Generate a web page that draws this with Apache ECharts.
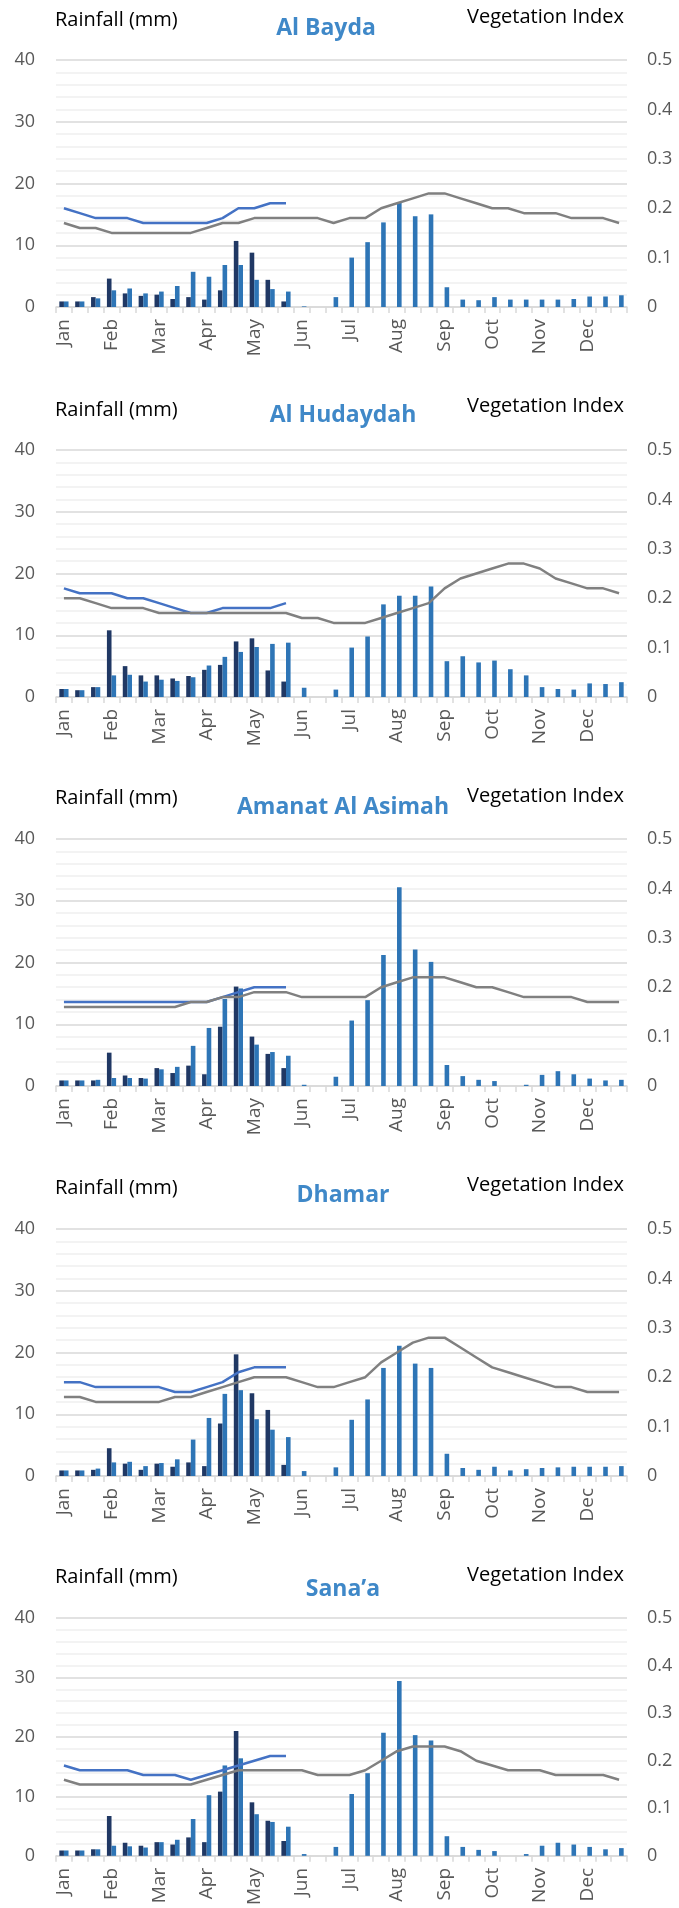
<!DOCTYPE html>
<html>
<head>
<meta charset="utf-8">
<script src="https://cdn.jsdelivr.net/npm/echarts@6/dist/echarts.min.js"></script>
<style>
  html, body { margin: 0; padding: 0; background: #fff; }
  #chart { width: 679px; height: 1908px; }
</style>
</head>
<body>
<div id="chart"></div>
<script>
// x axis: 36 dekads, labelled by month
const months = ['Jan', 'Feb', 'Mar', 'Apr', 'May', 'Jun', 'Jul', 'Aug', 'Sep', 'Oct', 'Nov', 'Dec']
const dekads = months.flatMap(m => [m + ' 1', m + ' 2', m + ' 3'])

const rainTicks = [0, 10, 20, 30, 40]
const viTicks = [0, 0.1, 0.2, 0.3, 0.4, 0.5]

const regions = ['Al Bayda', 'Al Hudaydah', 'Amanat Al Asimah', 'Dhamar', 'Sana\u2019a']

// current season rainfall (mm), Jan 1 .. May 3
const baydaRain = [0.9, 0.9, 1.6, 4.6, 2.2, 1.8, 2.0, 1.3, 1.6, 1.2, 2.7, 10.7, 8.8, 4.4, 0.9]
const hudaydahRain = [1.3, 1.1, 1.6, 10.8, 5.0, 3.5, 3.5, 3.0, 3.4, 4.4, 5.2, 9.0, 9.5, 4.3, 2.5]
const asimahRain = [0.9, 0.9, 0.9, 5.4, 1.7, 1.3, 2.9, 2.1, 3.3, 1.9, 9.6, 16.1, 8.0, 5.2, 2.9]
const dhamarRain = [0.9, 0.9, 1.0, 4.5, 2.0, 1.0, 2.0, 1.5, 2.2, 1.6, 8.5, 19.7, 13.4, 10.7, 1.8]
const sanaaRain = [0.9, 0.9, 1.1, 6.7, 2.2, 1.7, 2.3, 1.9, 3.1, 2.3, 10.8, 21.0, 9.0, 5.9, 2.5]

// long term average rainfall (mm), full year
const baydaRainAvg = [0.9, 0.9, 1.4, 2.7, 3.0, 2.2, 2.5, 3.4, 5.7, 4.9, 6.8, 6.8, 4.4, 2.9, 2.5, 0.1, 0, 1.6, 8.0, 10.5, 13.7, 17.0, 14.7, 15.0, 3.2, 1.2, 1.1, 1.6, 1.2, 1.2, 1.2, 1.2, 1.3, 1.7, 1.7, 1.9]
const hudaydahRainAvg = [1.3, 1.1, 1.6, 3.5, 3.6, 2.5, 2.8, 2.6, 3.2, 5.1, 6.5, 7.3, 8.1, 8.6, 8.8, 1.5, 0, 1.2, 8.0, 9.8, 15.0, 16.4, 16.4, 17.9, 5.8, 6.6, 5.6, 5.9, 4.5, 3.5, 1.6, 1.3, 1.2, 2.2, 2.1, 2.4]
const asimahRainAvg = [0.9, 0.9, 1.0, 1.3, 1.3, 1.2, 2.7, 3.1, 6.5, 9.4, 14.1, 15.8, 6.7, 5.5, 4.9, 0.2, 0, 1.5, 10.6, 13.9, 21.2, 32.2, 22.1, 20.1, 3.4, 1.6, 1.0, 0.8, 0, 0.2, 1.8, 2.4, 1.9, 1.2, 0.9, 1.0]
const dhamarRainAvg = [0.9, 0.9, 1.2, 2.2, 2.3, 1.6, 2.1, 2.7, 5.9, 9.4, 13.3, 13.9, 9.2, 7.5, 6.3, 0.8, 0, 1.4, 9.1, 12.4, 17.5, 21.1, 18.2, 17.5, 3.6, 1.3, 1.0, 1.5, 0.9, 1.1, 1.3, 1.4, 1.5, 1.5, 1.5, 1.6]
const sanaaRainAvg = [0.9, 0.9, 1.1, 1.7, 1.6, 1.4, 2.3, 2.7, 6.2, 10.2, 15.2, 16.4, 7.0, 5.7, 4.9, 0.3, 0, 1.5, 10.4, 13.9, 20.7, 29.4, 20.3, 19.4, 3.3, 1.5, 1.0, 0.8, 0, 0.3, 1.7, 2.2, 1.9, 1.5, 1.1, 1.3]

// current season vegetation index
const baydaVi = [0.20, 0.19, 0.18, 0.18, 0.18, 0.17, 0.17, 0.17, 0.17, 0.17, 0.18, 0.20, 0.20, 0.21, 0.21]
const hudaydahVi = [0.22, 0.21, 0.21, 0.21, 0.20, 0.20, 0.19, 0.18, 0.17, 0.17, 0.18, 0.18, 0.18, 0.18, 0.19]
const asimahVi = [0.17, 0.17, 0.17, 0.17, 0.17, 0.17, 0.17, 0.17, 0.17, 0.17, 0.18, 0.19, 0.20, 0.20, 0.20]
const dhamarVi = [0.19, 0.19, 0.18, 0.18, 0.18, 0.18, 0.18, 0.17, 0.17, 0.18, 0.19, 0.21, 0.22, 0.22, 0.22]
const sanaaVi = [0.19, 0.18, 0.18, 0.18, 0.18, 0.17, 0.17, 0.17, 0.16, 0.17, 0.18, 0.19, 0.20, 0.21, 0.21]

// average vegetation index, full year
const baydaViAvg = [0.17, 0.16, 0.16, 0.15, 0.15, 0.15, 0.15, 0.15, 0.15, 0.16, 0.17, 0.17, 0.18, 0.18, 0.18, 0.18, 0.18, 0.17, 0.18, 0.18, 0.20, 0.21, 0.22, 0.23, 0.23, 0.22, 0.21, 0.20, 0.20, 0.19, 0.19, 0.19, 0.18, 0.18, 0.18, 0.17]
const hudaydahViAvg = [0.20, 0.20, 0.19, 0.18, 0.18, 0.18, 0.17, 0.17, 0.17, 0.17, 0.17, 0.17, 0.17, 0.17, 0.17, 0.16, 0.16, 0.15, 0.15, 0.15, 0.16, 0.17, 0.18, 0.19, 0.22, 0.24, 0.25, 0.26, 0.27, 0.27, 0.26, 0.24, 0.23, 0.22, 0.22, 0.21]
const asimahViAvg = [0.16, 0.16, 0.16, 0.16, 0.16, 0.16, 0.16, 0.16, 0.17, 0.17, 0.18, 0.18, 0.19, 0.19, 0.19, 0.18, 0.18, 0.18, 0.18, 0.18, 0.20, 0.21, 0.22, 0.22, 0.22, 0.21, 0.20, 0.20, 0.19, 0.18, 0.18, 0.18, 0.18, 0.17, 0.17, 0.17]
const dhamarViAvg = [0.16, 0.16, 0.15, 0.15, 0.15, 0.15, 0.15, 0.16, 0.16, 0.17, 0.18, 0.19, 0.20, 0.20, 0.20, 0.19, 0.18, 0.18, 0.19, 0.20, 0.23, 0.25, 0.27, 0.28, 0.28, 0.26, 0.24, 0.22, 0.21, 0.20, 0.19, 0.18, 0.18, 0.17, 0.17, 0.17]
const sanaaViAvg = [0.16, 0.15, 0.15, 0.15, 0.15, 0.15, 0.15, 0.15, 0.15, 0.16, 0.17, 0.18, 0.18, 0.18, 0.18, 0.18, 0.17, 0.17, 0.17, 0.18, 0.20, 0.22, 0.23, 0.23, 0.23, 0.22, 0.20, 0.19, 0.18, 0.18, 0.18, 0.17, 0.17, 0.17, 0.17, 0.16]

const rainSets = [baydaRain, hudaydahRain, asimahRain, dhamarRain, sanaaRain]
const rainAvgSets = [baydaRainAvg, hudaydahRainAvg, asimahRainAvg, dhamarRainAvg, sanaaRainAvg]
const viSets = [baydaVi, hudaydahVi, asimahVi, dhamarVi, sanaaVi]
const viAvgSets = [baydaViAvg, hudaydahViAvg, asimahViAvg, dhamarViAvg, sanaaViAvg]

// layout of each panel (pixels): plot top, title centre and label centres
const panelTop = [60, 450, 839, 1229, 1618]
const titleY = [28, 415, 807, 1195, 1589]
const titleX = [326, 343, 343, 343, 343]
const rainLabelY = [20, 410, 798, 1188, 1577]
const viLabelY = [17, 406, 796, 1185, 1575]

const FONT = '"Open Sans", "Noto Sans", sans-serif'
const PLOT_LEFT = 56
const PLOT_RIGHT = 627
const PLOT_H = 247
const GRID = '#d9d9d9'
const AXIS_TEXT = '#595959'

const chart = echarts.init(document.getElementById('chart'), null, { renderer: 'canvas' })

const grid = []
const xAxis = []
const yAxis = []
const series = []
const graphic = []

regions.forEach((name, i) => {
  grid.push({ left: PLOT_LEFT, width: PLOT_RIGHT - PLOT_LEFT, top: panelTop[i], height: PLOT_H })
  xAxis.push({
    type: 'category',
    gridIndex: i,
    data: dekads,
    boundaryGap: true,
    axisLine: { lineStyle: { color: GRID, width: 1.5 } },
    axisTick: { show: true, interval: 0, length: 6, lineStyle: { color: GRID, width: 1.5 } },
    axisLabel: {
      interval: 2,
      rotate: 90,
      margin: 12,
      color: AXIS_TEXT,
      fontFamily: FONT,
      fontSize: 19,
      formatter: v => v.split(' ')[0],
    },
    splitLine: { show: false },
  })
  yAxis.push({
    type: 'value',
    gridIndex: i,
    min: rainTicks[0],
    max: rainTicks[rainTicks.length - 1],
    interval: rainTicks[1] - rainTicks[0],
    axisLine: { show: false },
    axisTick: { show: false },
    axisLabel: { color: AXIS_TEXT, fontFamily: FONT, fontSize: 18, margin: 21 },
    splitLine: { lineStyle: { color: GRID, width: 1.5 } },
    minorTick: { show: false, splitNumber: 5 },
    minorSplitLine: { show: true, lineStyle: { color: '#f0f0f0', width: 1.5 } },
  })
  yAxis.push({
    type: 'value',
    gridIndex: i,
    position: 'right',
    min: viTicks[0],
    max: viTicks[viTicks.length - 1],
    interval: viTicks[1] - viTicks[0],
    axisLine: { show: false },
    axisTick: { show: false },
    axisLabel: { color: AXIS_TEXT, fontFamily: FONT, fontSize: 18, margin: 20 },
    splitLine: { show: false },
  })
  series.push({
    name: name + ' rainfall',
    type: 'bar',
    xAxisIndex: i,
    yAxisIndex: i * 2,
    data: rainSets[i],
    barWidth: 4.6,
    barGap: '0%',
    itemStyle: { color: '#203864' },
  })
  series.push({
    name: name + ' average rainfall',
    type: 'bar',
    xAxisIndex: i,
    yAxisIndex: i * 2,
    data: rainAvgSets[i],
    barWidth: 4.6,
    barGap: '0%',
    itemStyle: { color: '#2e75b6' },
  })
  series.push({
    name: name + ' vegetation index',
    type: 'line',
    xAxisIndex: i,
    yAxisIndex: i * 2 + 1,
    data: viSets[i],
    showSymbol: false,
    lineStyle: { color: '#4472c4', width: 2.5 },
    itemStyle: { color: '#4472c4' },
  })
  series.push({
    name: name + ' average vegetation index',
    type: 'line',
    xAxisIndex: i,
    yAxisIndex: i * 2 + 1,
    data: viAvgSets[i],
    showSymbol: false,
    lineStyle: { color: '#808080', width: 2.5 },
    itemStyle: { color: '#808080' },
  })
  graphic.push({
    type: 'text',
    style: { text: 'Rainfall (mm)', x: PLOT_LEFT - 1, y: rainLabelY[i], font: '20px ' + FONT, fill: '#000', textAlign: 'left', textVerticalAlign: 'middle' },
  })
  graphic.push({
    type: 'text',
    style: { text: 'Vegetation Index', x: PLOT_RIGHT - 3, y: viLabelY[i], font: '20px ' + FONT, fill: '#000', textAlign: 'right', textVerticalAlign: 'middle' },
  })
  graphic.push({
    type: 'text',
    style: { text: name, x: titleX[i], y: titleY[i], font: 'bold 23px ' + FONT, fill: '#3f88c8', textAlign: 'center', textVerticalAlign: 'middle' },
  })
})

chart.setOption({
  animation: false,
  backgroundColor: '#fff',
  grid,
  xAxis,
  yAxis,
  series,
  graphic,
})
</script>
</body>
</html>
